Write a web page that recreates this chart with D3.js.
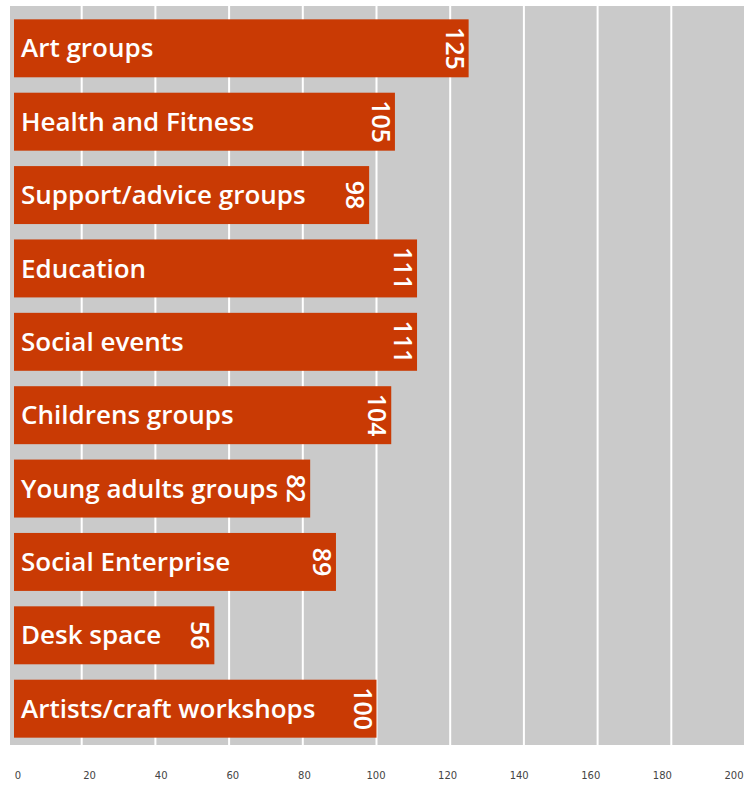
<!DOCTYPE html>
<html>
<head>
<meta charset="utf-8">
<script src="https://cdn.jsdelivr.net/npm/d3@7"></script>
<style>
  body { margin: 0; background: #fff; }
</style>
</head>
<body>
<div id="chart"></div>
<script>
// chart data
const categories = ['Art groups', 'Health and Fitness', 'Support/advice groups', 'Education',
  'Social events', 'Childrens groups', 'Young adults groups', 'Social Enterprise',
  'Desk space', 'Artists/craft workshops']
const counts = [125, 105, 98, 111, 111, 104, 82, 89, 56, 100]
const ticks = [0, 20, 40, 60, 80, 100, 120, 140, 160, 180, 200]

const width = 751,
  height = 785

const plot = { left: 10, right: 744, top: 6, bottom: 745 }

const xScale = d3.scaleLinear()
  .domain([0, 200])
  .range([8, 745])

// tick labels sit a touch inside the gridlines in the original
const tickScale = d3.scaleLinear()
  .domain([0, 200])
  .range([18, 734])

const yScale = d3.scaleBand()
  .domain(categories)
  .range([12, plot.bottom])
  .paddingInner(0.21)
  .paddingOuter(0.1)

let svg = d3.select('#chart')
  .append('svg')
  .attr('width', width)
  .attr('height', height)

// grey plot background
svg.append('rect')
  .attr('x', plot.left)
  .attr('y', plot.top)
  .attr('width', plot.right - plot.left)
  .attr('height', plot.bottom - plot.top)
  .attr('fill', '#cacaca')

// white gridlines
svg.selectAll('line.grid')
  .data(ticks.filter(d => d > 0 && d < 200))
  .enter()
  .append('line')
  .attr('class', 'grid')
  .attr('x1', d => xScale(d))
  .attr('x2', d => xScale(d))
  .attr('y1', plot.top)
  .attr('y2', plot.bottom)
  .attr('stroke', '#fff')
  .attr('stroke-width', 2)

// bars
svg.selectAll('rect.bar')
  .data(counts)
  .enter()
  .append('rect')
  .attr('class', 'bar')
  .attr('x', 14)
  .attr('y', (d, i) => yScale(categories[i]))
  .attr('width', d => xScale(d) - 14)
  .attr('height', yScale.bandwidth())
  .attr('fill', '#c93a04')

// category names inside the bars
svg.selectAll('text.cat')
  .data(categories)
  .enter()
  .append('text')
  .attr('class', 'cat')
  .attr('x', 21)
  .attr('y', d => yScale(d) + yScale.bandwidth() / 2)
  .attr('dy', '0.35em')
  .attr('fill', '#fff')
  .style('font-family', '"Open Sans", sans-serif')
  .style('font-weight', 600)
  .style('font-size', '26px')
  .text(d => d)

// values, rotated, at the bar ends
svg.selectAll('text.val')
  .data(counts)
  .enter()
  .append('text')
  .attr('class', 'val')
  .attr('transform', (d, i) => {
    let x = xScale(d) - 23
    let y = yScale(categories[i]) + yScale.bandwidth() / 2
    return `translate(${x},${y}) rotate(90)`
  })
  .attr('text-anchor', 'middle')
  .attr('fill', '#fff')
  .style('font-family', '"Open Sans", sans-serif')
  .style('font-weight', 600)
  .style('font-size', '25px')
  .text(d => d)

// x tick labels
svg.selectAll('text.tick')
  .data(ticks)
  .enter()
  .append('text')
  .attr('class', 'tick')
  .attr('x', d => tickScale(d))
  .attr('y', 779)
  .attr('text-anchor', 'middle')
  .attr('fill', '#444')
  .style('font-family', 'DejaVu Sans, sans-serif')
  .style('font-size', '10px')
  .text(d => d)
</script>
</body>
</html>
